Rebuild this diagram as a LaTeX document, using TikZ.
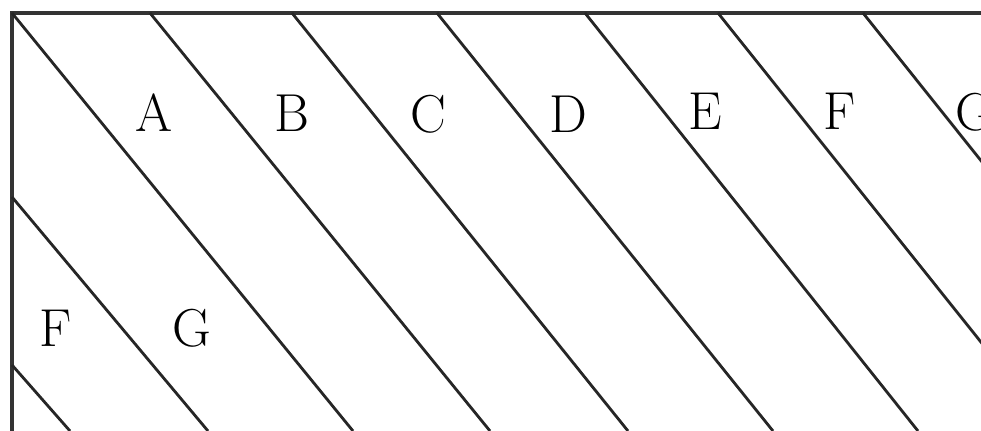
\documentclass[tikz,border=0pt]{standalone}
\usetikzlibrary{positioning}

\begin{document}
\begin{tikzpicture}[x=0.025cm, y=-0.025cm,
    striscia/.style={line width=2pt, black!85},
    cornice/.style={line width=2.4pt, black!80},
    lettera/.style={font=\fontsize{38}{46}\selectfont, anchor=base, inner sep=0pt}]

        % ==========================================
        % AREA VISIBILE (ritagliata come l'originale)
        % ==========================================
        \useasboundingbox (0,0) rectangle (981,431);
        \clip (0,0) rectangle (981,431);

        % ==========================================
        % CORNICE (lato superiore e sinistro)
        % ==========================================
        \draw[cornice] (990,13) -- (12,13) -- (12,440);

        % ==========================================
        % STRISCE DIAGONALI
        % ==========================================

        % Strisce che partono dal lato superiore
        \draw[striscia] (12,13) -- (353,431);
        \draw[striscia] (150,13) -- (490,431);
        \draw[striscia] (292,13) -- (628,431);
        \draw[striscia] (437,13) -- (773,431);
        \draw[striscia] (585,13) -- (918,431);
        \draw[striscia] (718,13) -- (1052,431);
        \draw[striscia] (863,13) -- (1197,431);

        % Strisce che partono dal lato sinistro
        \draw[striscia] (12,197) -- (208,431);
        \draw[striscia] (12,365) -- (70,431);

        % ==========================================
        % ETICHETTE DELLE STRISCE
        % ==========================================

        % Riga superiore
        \node[lettera] (lettA) at (154,132) {A};
        \node[lettera] (lettB) at (292,132) {B};
        \node[lettera] (lettC) at (428,133) {C};
        \node[lettera] (lettD) at (568,133) {D};
        \node[lettera] (lettE) at (705,130) {E};
        \node[lettera] (lettF) at (840,130) {F};
        \node[lettera] (lettG) at (975,131) {G};

        % Riga inferiore
        \node[lettera] (lettFb) at (56,347) {F};
        \node[lettera] (lettGb) at (192,347) {G};

    \end{tikzpicture}
\end{document}
